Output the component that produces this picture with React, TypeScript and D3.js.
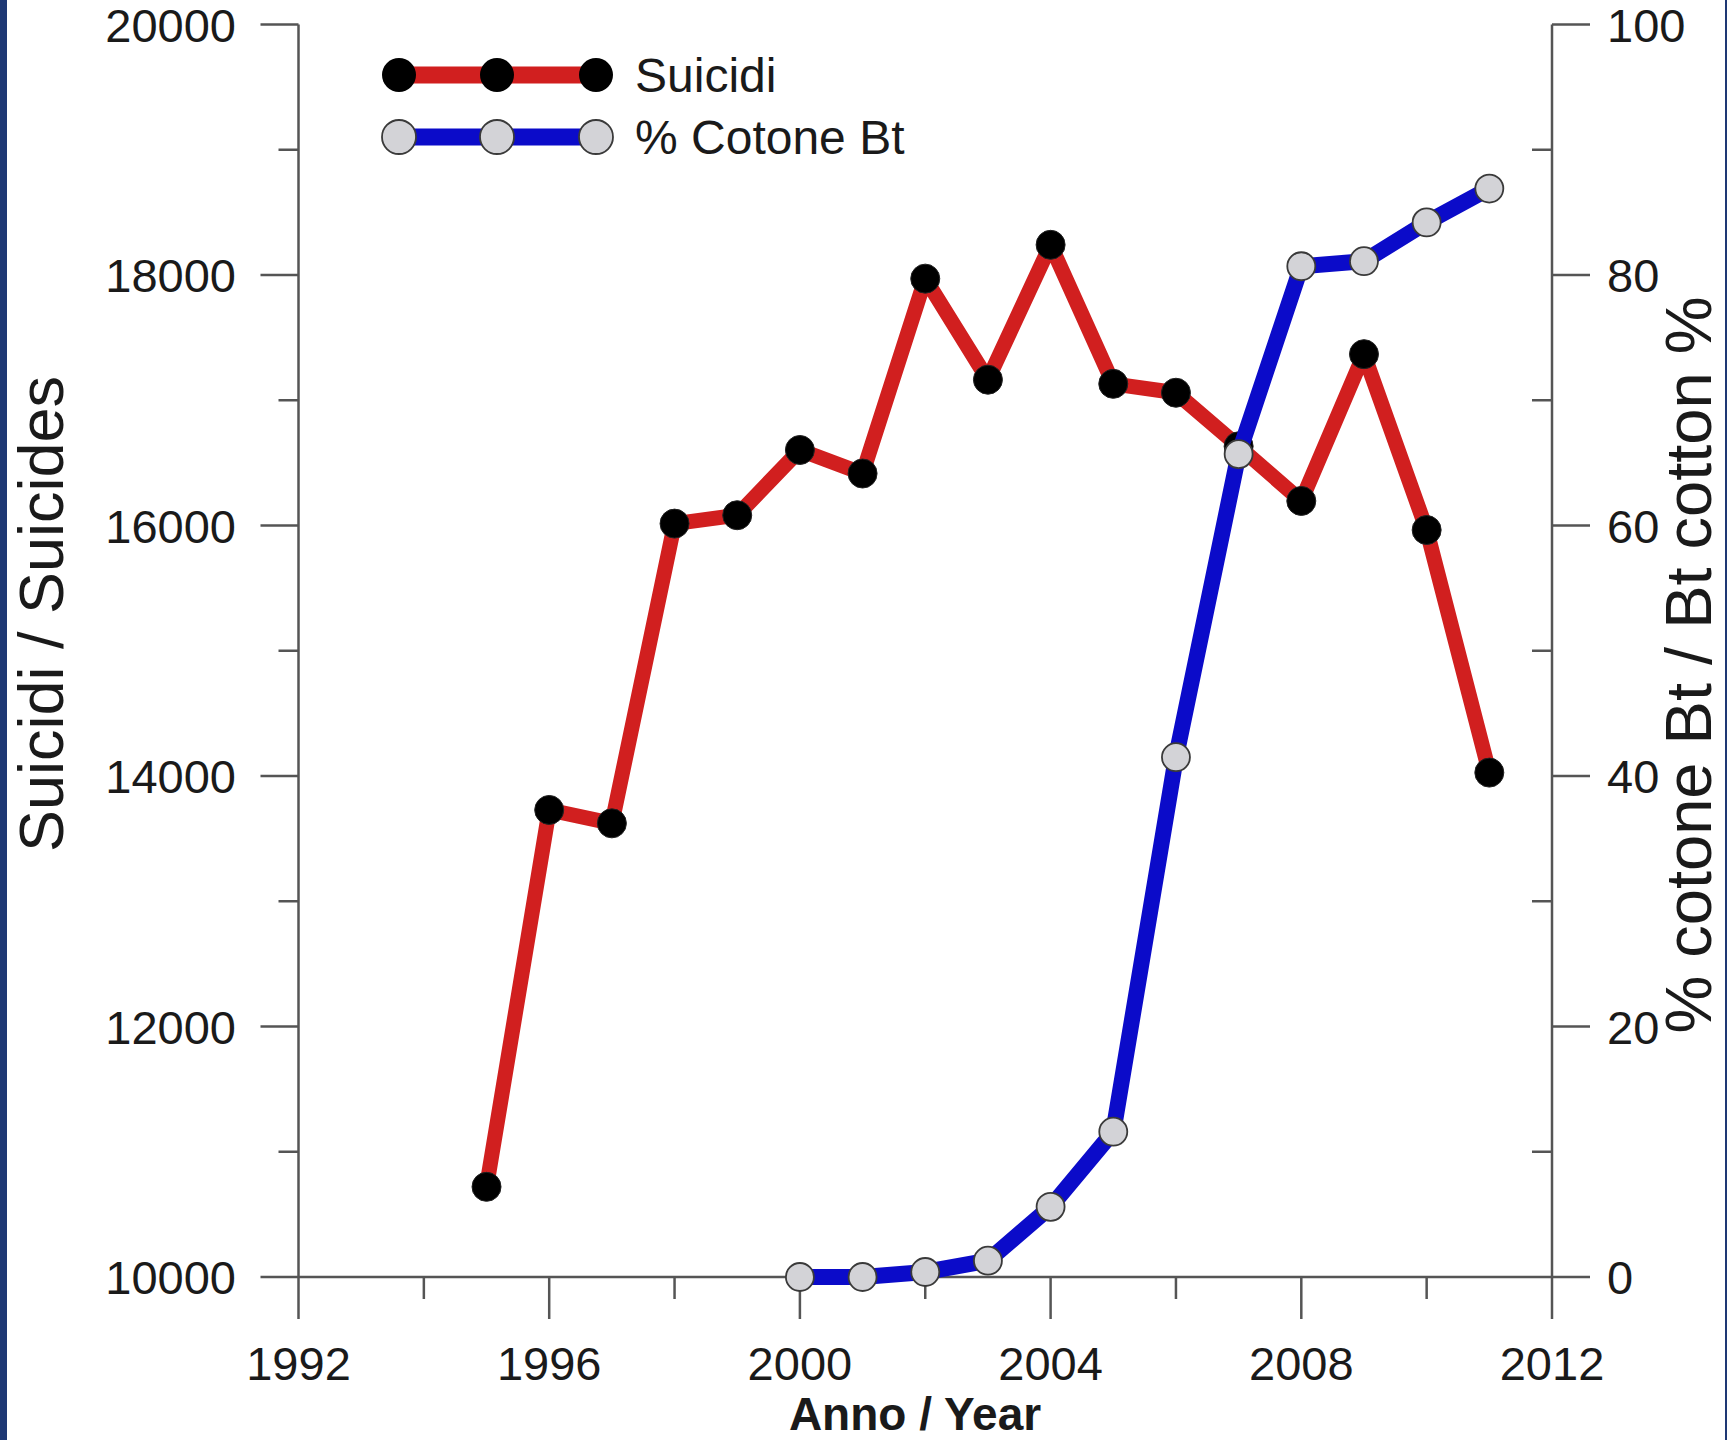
import React from "react";
import * as d3 from "d3";

// Farmer suicides per year
const suicideYears = [1995, 1996, 1997, 1998, 1999, 2000, 2001, 2002, 2003, 2004, 2005, 2006, 2007, 2008, 2009, 2010, 2011];
const suicides = [10720, 13729, 13622, 16015, 16082, 16603, 16415, 17971, 17164, 18241, 17131, 17060, 16632, 16196, 17368, 15964, 14027];

// Share of cotton area planted with Bt cotton (%)
const btYears = [2000, 2001, 2002, 2003, 2004, 2005, 2006, 2007, 2008, 2009, 2010, 2011];
const btShare = [0, 0, 0.4, 1.3, 5.6, 11.6, 41.5, 65.7, 80.7, 81.1, 84.2, 86.9];

const xMajorTicks = [1992, 1996, 2000, 2004, 2008, 2012];
const xMinorTicks = [1994, 1998, 2002, 2006, 2010];
const leftMajorTicks = [10000, 12000, 14000, 16000, 18000, 20000];
const leftMinorTicks = [11000, 13000, 15000, 17000, 19000];
const rightMajorTicks = [0, 20, 40, 60, 80, 100];
const rightMinorTicks = [10, 30, 50, 70, 90];

const legendLabels = ["Suicidi", "% Cotone Bt"];
const xTitle = "Anno / Year";
const leftTitle = "Suicidi / Suicides";
const rightTitle = "% cotone Bt / Bt cotton %";

const W = 1727;
const H = 1440;
const FONT = "'Liberation Sans', Arial, Helvetica, sans-serif";
const AXIS = "#555";
const TEXT = "#1a1a1a";
const RED = "#d11f1f";
const BLUE = "#0b0bc9";
const GREY = "#d3d3d7";

export default function App() {
  const x = d3.scaleLinear().domain([1992, 2012]).range([298.5, 1552]);
  const yL = d3.scaleLinear().domain([10000, 20000]).range([1277, 24.5]);
  const yR = d3.scaleLinear().domain([0, 100]).range([1277, 24.5]);

  const x0 = x.range()[0];
  const x1 = x.range()[1];
  const yBottom = yL.range()[0];
  const yTop = yL.range()[1];

  const redPts: [number, number][] = suicideYears.map((yr, i) => [x(yr), yL(suicides[i])]);
  const bluePts: [number, number][] = btYears.map((yr, i) => [x(yr), yR(btShare[i])]);
  const line = d3.line();

  const legendXs = [399, 497, 596];
  const legendYs = [75, 137];

  return (
    <svg
      width={W}
      height={H}
      style={{ position: "absolute", left: 0, top: 0, display: "block" }}
      fontFamily={FONT}
    >
      <rect x={0} y={0} width={W} height={H} fill="#ffffff" />
      <rect x={0} y={0} width={7} height={H} fill="#1e3874" />
      <rect x={W - 2} y={0} width={2} height={H} fill="#1e3874" />

      {/* axes */}
      <g stroke={AXIS} strokeWidth={2.5} fill="none">
        <line x1={x0} y1={yTop} x2={x0} y2={yBottom} />
        <line x1={x1} y1={yTop} x2={x1} y2={yBottom} />
        <line x1={x0} y1={yBottom} x2={x1} y2={yBottom} />
        {leftMajorTicks.map((v) => (
          <line key={"lM" + v} x1={x0 - 38} x2={x0} y1={yL(v)} y2={yL(v)} />
        ))}
        {leftMinorTicks.map((v) => (
          <line key={"lm" + v} x1={x0 - 20} x2={x0} y1={yL(v)} y2={yL(v)} />
        ))}
        {rightMajorTicks.map((v) => (
          <line key={"rM" + v} x1={x1} x2={x1 + 38} y1={yR(v)} y2={yR(v)} />
        ))}
        {rightMinorTicks.map((v) => (
          <line key={"rm" + v} x1={x1 - 20} x2={x1} y1={yR(v)} y2={yR(v)} />
        ))}
        {xMajorTicks.map((v) => (
          <line key={"xM" + v} x1={x(v)} x2={x(v)} y1={yBottom} y2={yBottom + 42} />
        ))}
        {xMinorTicks.map((v) => (
          <line key={"xm" + v} x1={x(v)} x2={x(v)} y1={yBottom} y2={yBottom + 22} />
        ))}
      </g>

      {/* tick labels */}
      <g fill={TEXT} fontSize={47}>
        {leftMajorTicks.map((v) => (
          <text key={"lt" + v} x={236} y={yL(v) + 17} textAnchor="end">
            {v}
          </text>
        ))}
        {rightMajorTicks.map((v) => (
          <text key={"rt" + v} x={1607} y={yR(v) + 17} textAnchor="start">
            {v}
          </text>
        ))}
        {xMajorTicks.map((v) => (
          <text key={"xt" + v} x={x(v)} y={1380} textAnchor="middle">
            {v}
          </text>
        ))}
      </g>

      {/* axis titles */}
      <text x={915} y={1430} textAnchor="middle" fontSize={46} fontWeight="bold" fill={TEXT}>
        {xTitle}
      </text>
      <text
        transform={`translate(63, 614) rotate(-90)`}
        textAnchor="middle"
        fontSize={63}
        fill={TEXT}
      >
        {leftTitle}
      </text>
      <text
        transform={`translate(1711, 665) rotate(-90)`}
        textAnchor="middle"
        fontSize={65}
        fill={TEXT}
      >
        {rightTitle}
      </text>

      {/* suicides series */}
      <path
        d={line(redPts) ?? ""}
        fill="none"
        stroke={RED}
        strokeWidth={15}
        strokeLinejoin="miter"
        strokeMiterlimit={2}
      />
      {redPts.map(([px, py], i) => (
        <circle key={"rp" + i} cx={px} cy={py} r={14.5} fill="#000" stroke="#222" strokeWidth={1} />
      ))}

      {/* Bt cotton series */}
      <path
        d={line(bluePts) ?? ""}
        fill="none"
        stroke={BLUE}
        strokeWidth={16}
        strokeLinejoin="miter"
        strokeMiterlimit={2}
      />
      {bluePts.map(([px, py], i) => (
        <circle key={"bp" + i} cx={px} cy={py} r={14} fill={GREY} stroke="#3a3a3a" strokeWidth={1.8} />
      ))}

      {/* legend */}
      <g>
        <line x1={legendXs[0]} x2={legendXs[2]} y1={legendYs[0]} y2={legendYs[0]} stroke={RED} strokeWidth={17} />
        {legendXs.map((lx) => (
          <circle key={"lr" + lx} cx={lx} cy={legendYs[0]} r={17} fill="#000" />
        ))}
        <line x1={legendXs[0]} x2={legendXs[2]} y1={legendYs[1]} y2={legendYs[1]} stroke={BLUE} strokeWidth={17} />
        {legendXs.map((lx) => (
          <circle key={"lb" + lx} cx={lx} cy={legendYs[1]} r={17} fill={GREY} stroke="#3a3a3a" strokeWidth={1.8} />
        ))}
        <text x={635} y={legendYs[0] + 17} fontSize={48} fill={TEXT}>
          {legendLabels[0]}
        </text>
        <text x={635} y={legendYs[1] + 17} fontSize={48} fill={TEXT}>
          {legendLabels[1]}
        </text>
      </g>
    </svg>
  );
}
